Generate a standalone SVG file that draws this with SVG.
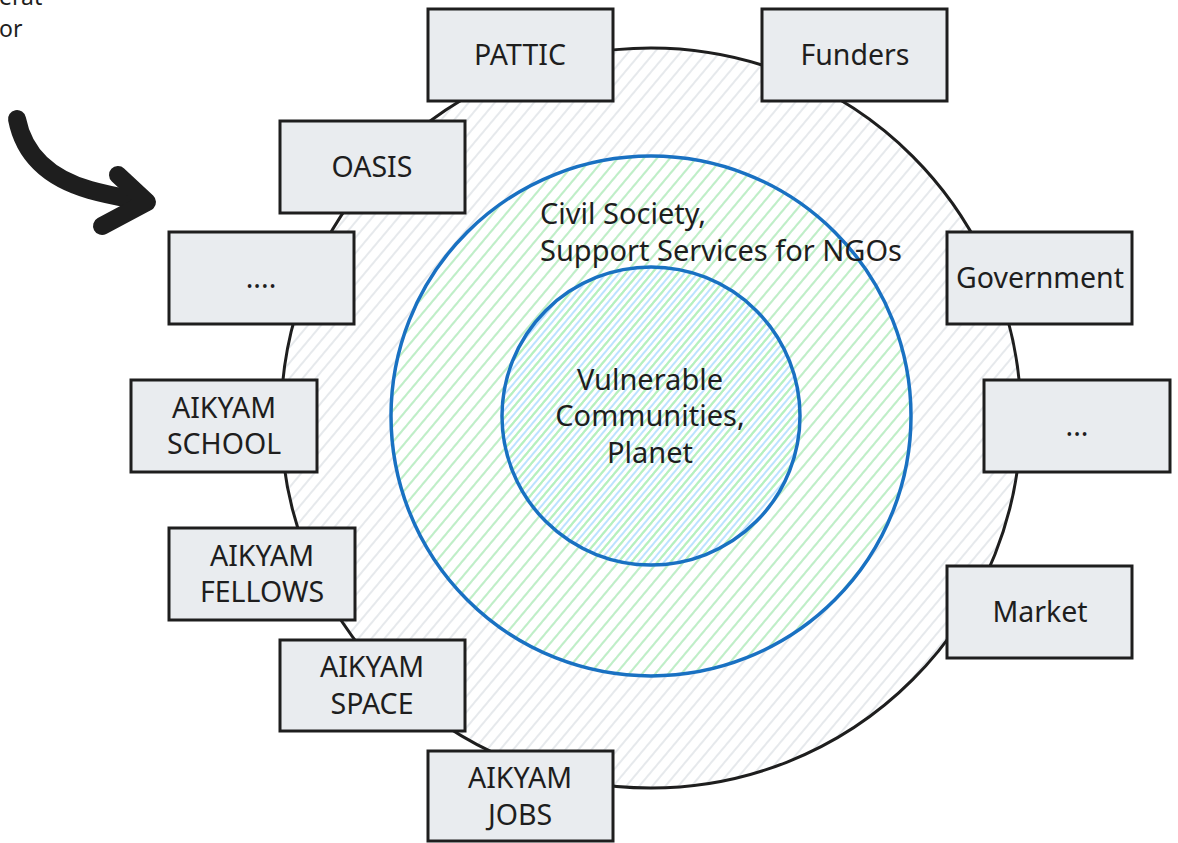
<svg xmlns="http://www.w3.org/2000/svg" width="1178" height="843" viewBox="0 0 1178 843">
  <style>
    .box { fill: #e9ecef; stroke: #1e1e1e; stroke-width: 3; }
    .lbl { font-family: "Noto Sans", "Liberation Sans", sans-serif; font-size: 28.5px; fill: #1e1e1e; text-anchor: middle; }
    .txt { font-family: "Noto Sans", "Liberation Sans", sans-serif; font-size: 29px; fill: #1e1e1e; }
    .ctr { font-family: "Noto Sans", "Liberation Sans", sans-serif; font-size: 29px; fill: #1e1e1e; text-anchor: middle; }
    .corner { font-family: "Noto Sans", "Liberation Sans", sans-serif; font-size: 23px; fill: #1e1e1e; }
  </style>
  <defs>
    <pattern id="hGrey" patternUnits="userSpaceOnUse" width="10" height="20" patternTransform="rotate(40)">
      <line x1="5" y1="0" x2="5" y2="20" stroke="#dee2e6" stroke-width="1.5"/>
    </pattern>
    <pattern id="hGreen" patternUnits="userSpaceOnUse" width="10" height="20" patternTransform="rotate(40)">
      <line x1="5" y1="0" x2="5" y2="20" stroke="#b2f2bb" stroke-width="1.5"/>
    </pattern>
    <pattern id="hBlue" patternUnits="userSpaceOnUse" width="10" height="20" patternTransform="rotate(40)">
      <line x1="0" y1="0" x2="0" y2="20" stroke="#a5d8ff" stroke-width="1.5"/>
      <line x1="10" y1="0" x2="10" y2="20" stroke="#a5d8ff" stroke-width="1.5"/>
    </pattern>
  </defs>
  <rect width="1178" height="843" fill="#ffffff"/>

  <!-- partially visible text at top-left -->
  <text class="corner" x="-1" y="5">erat</text>
  <text class="corner" x="-1" y="37">or</text>

  <!-- hand-drawn arrow -->
  <g id="arrow" fill="none" stroke="#1e1e1e" stroke-width="18" stroke-linecap="round" stroke-linejoin="round">
    <path d="M 17 119 C 25 160 55 180 90 190 C 115 197 133 199 146 202"/>
    <path d="M 118 175 L 147 202 L 102 226"/>
  </g>

  <!-- rings -->
  <g id="rings">
    <circle cx="651" cy="418" r="370" fill="url(#hGrey)" stroke="#1e1e1e" stroke-width="3"/>
    <circle cx="651" cy="416" r="260" fill="url(#hGreen)" stroke="#1971c2" stroke-width="3.5"/>
    <circle cx="651" cy="416" r="149" fill="url(#hBlue)" stroke="none"/>
    <circle cx="651" cy="416" r="149" fill="url(#hGreen)" stroke="#1971c2" stroke-width="3.5"/>
  </g>

  <g id="connectors"></g>

  <g id="ring-labels">
    <text class="txt" x="540" y="224">Civil Society,</text>
    <text class="txt" x="540" y="261">Support Services for NGOs</text>
    <text class="ctr" x="650" y="390">Vulnerable</text>
    <text class="ctr" x="650" y="426">Communities,</text>
    <text class="ctr" x="650" y="463">Planet</text>
  </g>

  <g id="pattic">
    <rect class="box" x="428" y="9" width="185" height="92"/>
    <text class="lbl" x="520" y="65">PATTIC</text>
  </g>
  <g id="funders">
    <rect class="box" x="762" y="9" width="185" height="92"/>
    <text class="lbl" x="855" y="65">Funders</text>
  </g>
  <g id="oasis">
    <rect class="box" x="280" y="121" width="185" height="92"/>
    <text class="lbl" x="372" y="177">OASIS</text>
  </g>
  <g id="more-left">
    <rect class="box" x="169" y="232" width="185" height="92"/>
    <text class="lbl" x="261" y="288">....</text>
  </g>
  <g id="aikyam-school">
    <rect class="box" x="131" y="380" width="186" height="92"/>
    <text class="lbl" x="224" y="418">AIKYAM</text>
    <text class="lbl" x="224" y="454">SCHOOL</text>
  </g>
  <g id="aikyam-fellows">
    <rect class="box" x="169" y="528" width="186" height="92"/>
    <text class="lbl" x="262" y="566">AIKYAM</text>
    <text class="lbl" x="262" y="602">FELLOWS</text>
  </g>
  <g id="aikyam-space">
    <rect class="box" x="280" y="640" width="185" height="91"/>
    <text class="lbl" x="372" y="677">AIKYAM</text>
    <text class="lbl" x="372" y="714">SPACE</text>
  </g>
  <g id="aikyam-jobs">
    <rect class="box" x="428" y="751" width="185" height="90"/>
    <text class="lbl" x="520" y="788">AIKYAM</text>
    <text class="lbl" x="520" y="825">JOBS</text>
  </g>
  <g id="government">
    <rect class="box" x="947" y="232" width="185" height="92"/>
    <text class="lbl" x="1040" y="288">Government</text>
  </g>
  <g id="more-right">
    <rect class="box" x="984" y="380" width="186" height="92"/>
    <text class="lbl" x="1077" y="436">...</text>
  </g>
  <g id="market">
    <rect class="box" x="947" y="566" width="185" height="92"/>
    <text class="lbl" x="1040" y="622">Market</text>
  </g>
</svg>
